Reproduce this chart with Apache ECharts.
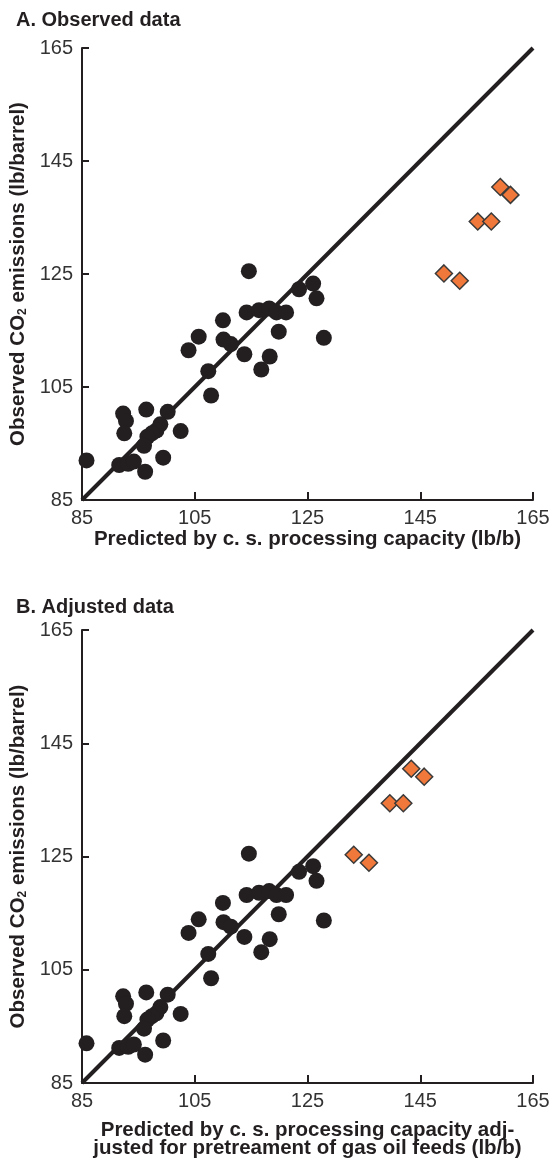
<!DOCTYPE html>
<html>
<head>
<meta charset="utf-8">
<script src="https://cdn.jsdelivr.net/npm/echarts@6/dist/echarts.min.js"></script>
<style>
html,body{margin:0;padding:0;background:#fff;}
#chart{width:553px;height:1158px;}
</style>
</head>
<body>
<div id="chart"></div>
<script>
// Tick labels
const axisTicks = [85, 105, 125, 145, 165];
// Black circles (same in both panels): [predicted, observed]
const refineries = [
  [85.8,92.0],[91.6,91.2],[93.2,91.4],[94.2,91.8],[96.2,90.0],[99.4,92.5],
  [92.3,100.3],[92.8,99.0],[92.5,96.8],[96.4,101.0],[100.2,100.6],[98.9,98.4],
  [98.2,97.3],[97.4,96.8],[96.6,96.2],[96.0,94.6],[102.5,97.2],[107.9,103.5],
  [107.4,107.8],[103.9,111.5],[105.7,113.9],[110.0,116.8],[110.1,113.4],[111.4,112.6],
  [113.8,110.8],[114.6,125.5],[114.2,118.2],[116.4,118.6],[118.2,118.9],[119.5,118.2],
  [121.2,118.2],[119.9,114.8],[118.3,110.4],[116.8,108.1],[123.5,122.3],[126.0,123.3],
  [126.6,120.7],[127.9,113.7]
];
// Orange diamonds, panel A (observed)
const gasOilObserved = [
  [159.2,140.4],[161.0,139.0],[155.2,134.3],[157.6,134.3],[149.2,125.1],[152.0,123.8]
];
// Orange diamonds, panel B (adjusted)
const gasOilAdjusted = [
  [143.4,140.5],[145.7,139.1],[139.6,134.4],[142.0,134.4],[133.2,125.3],[135.9,123.9]
];
// 1:1 line
const identityLine = [[85,85],[165,165]];

const FONT = '"Liberation Sans", Arial, Helvetica, sans-serif';
const INK = '#231f20';

function xAxis(idx, name, gap){
  return {
    gridIndex: idx, type:'value', min:85, max:165, interval:20,
    name: name, nameLocation:'middle', nameGap: gap,
    nameTextStyle:{fontFamily:FONT, fontWeight:'bold', fontSize:20.5, color:'#231f20', lineHeight:18},
    axisLine:{show:true, onZero:false, lineStyle:{color:INK, width:2}},
    axisTick:{show:true, inside:true, length:8, lineStyle:{color:INK, width:2}},
    axisLabel:{fontFamily:FONT, fontSize:20, color:'#333', margin:8,
      formatter: v => axisTicks.includes(v) ? String(v) : ''},
    splitLine:{show:false}
  };
}
function yAxis(idx){
  return {
    gridIndex: idx, type:'value', min:85, max:165, interval:20,
    name: 'Observed CO{sub|2} emissions (lb/barrel)',
    nameLocation:'middle', nameGap: 46, nameRotate: 90,
    nameTextStyle:{fontFamily:FONT, fontWeight:'bold', fontSize:20.5, color:'#231f20',
      rich:{sub:{fontFamily:FONT, fontWeight:'bold', fontSize:12, color:'#231f20', verticalAlign:'bottom', padding:[9,0,0,0]}}},
    axisLine:{show:true, onZero:false, lineStyle:{color:INK, width:2}},
    axisTick:{show:true, inside:true, length:7, lineStyle:{color:INK, width:2}},
    axisLabel:{fontFamily:FONT, fontSize:20, color:'#333', margin:9,
      formatter: v => axisTicks.includes(v) ? String(v) : ''},
    splitLine:{show:false}
  };
}

const circleStyle = {color: INK, opacity:1};
const diamondStyle = {color:'#f0783a', borderColor:'#3a3a3a', borderWidth:1.5, opacity:1};

const option = {
  animation:false,
  backgroundColor:'#fff',
  title:[
    {text:'A. Observed data', left:11, top:5, textStyle:{fontFamily:FONT, fontWeight:'bold', fontSize:20, color:'#231f20'}},
    {text:'B. Adjusted data', left:11, top:592, textStyle:{fontFamily:FONT, fontWeight:'bold', fontSize:20, color:'#231f20'}}
  ],
  grid:[
    {left:82, right:20, top:48, height:452, outerBoundsMode:'none', containLabel:false},
    {left:82, right:20, top:630, height:453, outerBoundsMode:'none', containLabel:false}
  ],
  xAxis:[
    xAxis(0, 'Predicted by c. s. processing capacity (lb/b)', 30),
    xAxis(1, 'Predicted by c. s. processing capacity adj-\njusted for pretreament of gas oil feeds (lb/b)', 38)
  ],
  yAxis:[yAxis(0), yAxis(1)],
  series:[
    {type:'line', xAxisIndex:0, yAxisIndex:0, data:identityLine, symbol:'none',
      lineStyle:{color:INK, width:4}, z:2},
    {type:'scatter', xAxisIndex:0, yAxisIndex:0, data:refineries, symbol:'circle', symbolSize:16,
      itemStyle:circleStyle, z:3},
    {type:'scatter', xAxisIndex:0, yAxisIndex:0, data:gasOilObserved, symbol:'diamond', symbolSize:[17,17],
      itemStyle:diamondStyle, z:4},
    {type:'line', xAxisIndex:1, yAxisIndex:1, data:identityLine, symbol:'none',
      lineStyle:{color:INK, width:4}, z:2},
    {type:'scatter', xAxisIndex:1, yAxisIndex:1, data:refineries, symbol:'circle', symbolSize:16,
      itemStyle:circleStyle, z:3},
    {type:'scatter', xAxisIndex:1, yAxisIndex:1, data:gasOilAdjusted, symbol:'diamond', symbolSize:[17,17],
      itemStyle:diamondStyle, z:4}
  ]
};
const chart = echarts.init(document.getElementById('chart'), null, {renderer:'canvas'});
chart.setOption(option);
</script>
</body>
</html>
